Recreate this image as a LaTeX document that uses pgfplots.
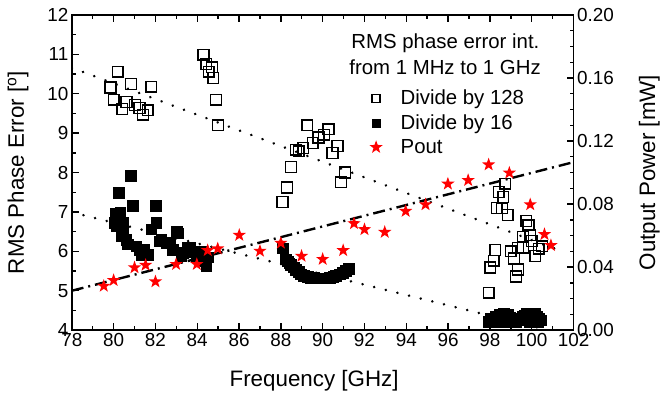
\documentclass[border=0pt]{standalone}
\usepackage{fontspec}
\setmainfont{Liberation Sans}
\usepackage{pgfplots}
\pgfplotsset{compat=1.18}

\pgfdeclareplotmark{fstar}{%
  \pgfpathmoveto{\pgfpointpolar{90}{\pgfplotmarksize}}%
  \pgfpathlineto{\pgfpointpolar{126}{0.40\pgfplotmarksize}}%
  \pgfpathlineto{\pgfpointpolar{162}{\pgfplotmarksize}}%
  \pgfpathlineto{\pgfpointpolar{198}{0.40\pgfplotmarksize}}%
  \pgfpathlineto{\pgfpointpolar{234}{\pgfplotmarksize}}%
  \pgfpathlineto{\pgfpointpolar{270}{0.40\pgfplotmarksize}}%
  \pgfpathlineto{\pgfpointpolar{306}{\pgfplotmarksize}}%
  \pgfpathlineto{\pgfpointpolar{342}{0.40\pgfplotmarksize}}%
  \pgfpathlineto{\pgfpointpolar{18}{\pgfplotmarksize}}%
  \pgfpathlineto{\pgfpointpolar{54}{0.40\pgfplotmarksize}}%
  \pgfpathclose
  \pgfusepathqfill}

\begin{document}
\begin{tikzpicture}
\pgfplotsset{
  every axis/.append style={
    scale only axis, width=503bp, height=316bp,
    xmin=78, xmax=102,
    /pgf/number format/assume math mode=true,
    tick label style={font=\fontsize{19}{19}\selectfont},
    axis line style={line width=1.6bp},
    major tick length=7bp, minor tick length=4bp,
    every tick/.style={black, line width=1.4bp},
  },
}
\begin{axis}[
  ymin=4, ymax=12,
  xtick={78,80,...,102}, minor x tick num=1,
  ytick={4,...,12}, minor y tick num=1,
  xtick pos=both, ytick pos=left,
  xlabel={Frequency [GHz]},
  ylabel={RMS Phase Error [\textsuperscript{o}]},
  every axis x label/.style={at={(axis description cs:0.483,-0.161)}, anchor=center,
    font=\fontsize{22.5}{24}\selectfont},
  every axis y label/.style={at={(axis description cs:-0.107,0.5)}, rotate=90, anchor=center,
    font=\fontsize{22.5}{24}\selectfont},
]
% trend lines
\addplot[black, line width=2.8bp, line cap=round, dash pattern=on 0.01bp off 12bp]
  coordinates {(78,10.66) (101.45,6.0)};
\addplot[black, line width=2.8bp, line cap=round, dash pattern=on 0.01bp off 12bp]
  coordinates {(78,6.99) (100.5,4.04)};
% Divide by 128
\addplot[only marks, mark=square, mark size=5.4bp, line width=1.4bp, black,
  mark options={fill=white}] coordinates {
(79.85,10.16) (80.0,9.85) (80.19,10.56) (80.42,9.61) (80.62,9.79) (80.83,10.25)
(81.02,9.71) (81.24,9.64) (81.4,9.47) (81.63,9.58) (81.8,10.18)
(84.3,10.99) (84.43,10.76) (84.55,10.56) (84.7,10.67) (84.77,10.4) (84.9,9.85) (85.0,9.2)
(88.08,7.25) (88.3,7.62) (88.48,8.14) (88.72,8.58) (88.85,8.54) (89.07,8.62) (89.27,9.2)
(89.52,8.75) (89.8,8.89) (90.07,8.96) (90.28,9.1) (90.47,8.5) (90.71,8.67) (90.87,7.75) (91.07,8.0)
(97.94,4.95) (98.02,5.59) (98.18,5.76) (98.26,6.03) (98.33,7.1) (98.42,7.51) (98.57,7.09)
(98.64,7.38) (98.74,7.72) (98.85,6.92) (99.0,6.0) (99.15,5.82) (99.25,5.36) (99.34,5.54)
(99.34,6.09) (99.58,6.09) (99.58,6.37) (99.74,6.77) (99.85,6.66) (99.93,6.41) (100.0,6.26)
(100.17,5.88) (100.33,6.07) (100.49,6.13)
};
% Divide by 16
\addplot[only marks, mark=square*, mark size=5.4bp, black] coordinates {
(80.05,6.73) (80.1,6.95) (80.13,6.64) (80.24,7.49) (80.32,6.98) (80.37,6.39) (80.45,6.43) (80.45,6.73)
(80.6,6.3) (80.69,6.18) (80.81,7.92) (80.92,7.15) (81.08,6.13) (81.24,6.05) (81.32,5.92)
(81.45,6.05) (81.64,5.92) (81.8,6.56) (82.0,7.16) (82.04,6.73) (82.2,6.26) (82.28,6.3)
(82.52,6.22) (82.68,6.22) (82.83,6.05) (83.03,6.49) (83.07,6.46) (83.23,5.88) (83.31,5.97)
(83.55,6.1) (83.63,6.09) (83.8,6.0) (83.95,5.86) (84.1,5.92) (84.19,6.0) (84.3,5.75)
(84.35,5.84) (84.43,5.63) (84.5,5.85)
(88.1,6.08) (88.24,5.8) (88.32,5.75) (88.4,5.7) (88.48,5.67) (88.6,5.6) (88.72,5.54)
(88.84,5.48) (88.96,5.42) (89.1,5.39) (89.27,5.36) (89.43,5.34) (89.59,5.33) (89.75,5.32)
(89.9,5.32) (90.05,5.32) (90.2,5.32) (90.35,5.33) (90.5,5.35) (90.63,5.38) (90.8,5.42)
(90.94,5.46) (91.1,5.5) (91.26,5.56)
(97.95,4.22) (98.05,4.3) (98.1,4.2) (98.15,4.25) (98.25,4.35) (98.35,4.3) (98.45,4.4)
(98.55,4.38) (98.6,4.22) (98.65,4.42) (98.75,4.35) (98.85,4.4) (98.95,4.32) (99.0,4.2)
(99.05,4.28) (99.15,4.3) (99.25,4.22) (99.35,4.25) (99.45,4.3) (99.55,4.35) (99.65,4.38)
(99.75,4.42) (99.85,4.35) (99.9,4.22) (99.95,4.4) (100.05,4.3) (100.15,4.42) (100.25,4.35)
(100.3,4.2) (100.35,4.3) (100.45,4.25)
};
\node[anchor=base west, inner sep=0pt, font=\fontsize{20.5}{22}\selectfont]
  at (axis description cs:0.557,0.893) {RMS phase error int.};
\node[anchor=base west, inner sep=0pt, font=\fontsize{20.5}{22}\selectfont]
  at (axis description cs:0.553,0.810) {from 1 MHz to 1 GHz};
\end{axis}

\begin{axis}[
  ymin=0, ymax=0.2,
  axis y line*=right, axis x line=none,
  ytick={0,0.04,...,0.2}, minor y tick num=3,
  yticklabel style={/pgf/number format/.cd, fixed, fixed zerofill, precision=2},
  scaled y ticks=false,
  ylabel={Output Power [mW]},
  every axis y label/.style={at={(axis description cs:1.151,0.5)}, rotate=90, anchor=center,
    font=\fontsize{22.5}{24}\selectfont},
  legend style={draw=none, fill=none, at={(axis description cs:0.583,0.775)}, anchor=north west,
    font=\fontsize{20.5}{22}\selectfont, row sep=4.5bp, cells={anchor=west}},
  legend image code/.code={\path (0bp,0bp) (30bp,0bp);
    \draw[mark repeat=2,mark phase=2,#1] plot coordinates {(0bp,0bp)(8bp,0bp)(16bp,0bp)};},
]
\addplot[black, line width=2.4bp, dash pattern=on 12bp off 5bp on 2bp off 5bp, forget plot]
  coordinates {(78,0.025) (102,0.1066)};
\addlegendimage{only marks, mark=square, mark size=4bp, line width=1.3bp, black, mark options={fill=white}}
\addlegendentry{Divide by 128}
\addlegendimage{only marks, mark=square*, mark size=4bp, black}
\addlegendentry{Divide by 16}
\addplot[only marks, mark=fstar, mark size=7bp, red] coordinates {
(79.53,0.028) (80.0,0.0316) (81.0,0.0397) (81.53,0.0413) (82.0,0.0308) (82.99,0.0418)
(83.98,0.0418) (84.5,0.0506) (84.98,0.0517) (86.01,0.0603) (87.0,0.0502) (88.0,0.0553)
(88.99,0.047) (90.0,0.045) (90.98,0.0506) (91.5,0.0677) (92.0,0.0639) (92.97,0.0622)
(93.97,0.0755) (94.92,0.0797) (95.99,0.0928) (96.96,0.0951) (97.94,0.105) (98.93,0.0998)
(99.93,0.0797) (100.61,0.0608) (100.92,0.0538)
};
\addlegendentry{Pout}
\end{axis}
\path[use as bounding box] (-72bp,-68bp) rectangle (591bp,331bp);
\end{tikzpicture}
\end{document}
